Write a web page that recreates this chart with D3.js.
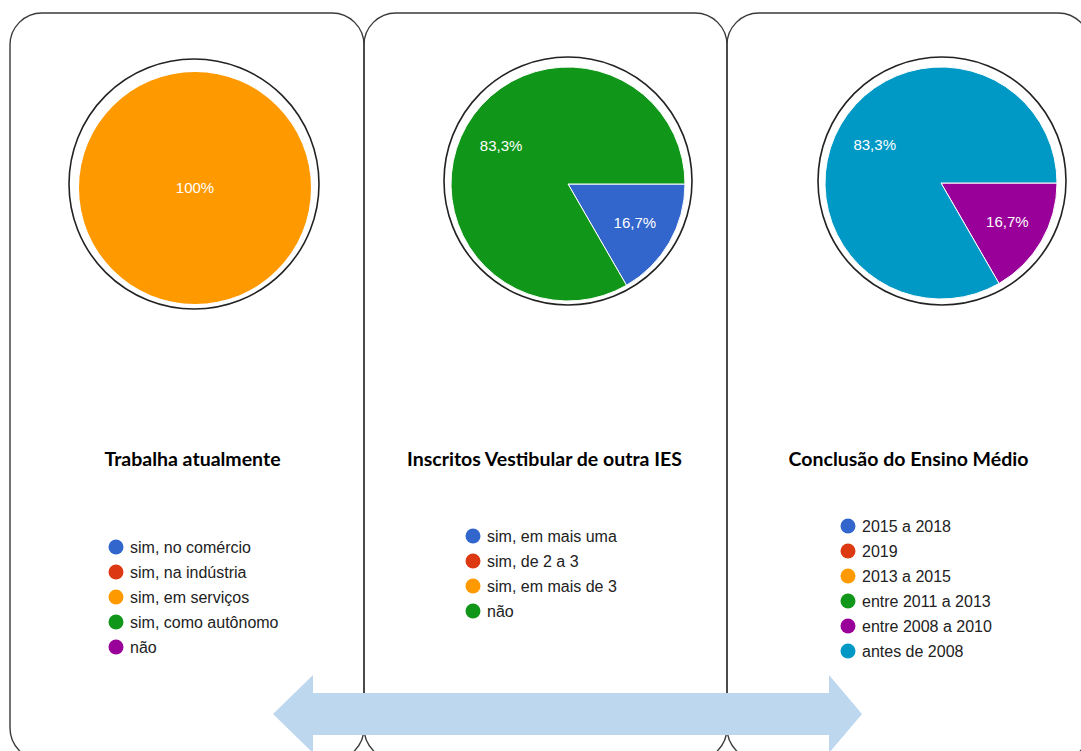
<!DOCTYPE html>
<html lang="pt">
<head>
    <meta charset="UTF-8">
    <title>Perfil dos inscritos</title>
    <script src="https://cdnjs.cloudflare.com/ajax/libs/d3/7.8.5/d3.min.js"></script>
    <style>
        body {
            margin: 0;
            background-color: #ffffff;
        }
        svg {
            display: block;
        }
        .slice-label {
            font-family: Arial, "Liberation Sans", sans-serif;
            font-size: 15px;
            fill: #ffffff;
            text-anchor: middle;
        }
        .legend-label {
            font-family: Arial, "Liberation Sans", sans-serif;
            font-size: 16px;
            fill: #222222;
        }
        .panel-title {
            font-family: Lato, "Open Sans", sans-serif;
            font-weight: bold;
            font-size: 19.5px;
            fill: #000000;
            text-anchor: middle;
        }
    </style>
</head>
<body>
    <svg width="1081" height="751"></svg>
    <script>
// chart data
const titles = ["Trabalha atualmente", "Inscritos Vestibular de outra IES", "Conclusão do Ensino Médio"];

const trabalhaLabels = ["sim, no comércio", "sim, na indústria", "sim, em serviços", "sim, como autônomo", "não"];
const trabalhaValues = [0, 0, 6, 0, 0];

const inscritosLabels = ["sim, em mais uma", "sim, de 2 a 3", "sim, em mais de 3", "não"];
const inscritosValues = [1, 0, 0, 5];

const conclusaoLabels = ["2015 a 2018", "2019", "2013 a 2015", "entre 2011 a 2013", "entre 2008 a 2010", "antes de 2008"];
const conclusaoValues = [0, 0, 0, 0, 1, 5];

const palette = ["#3366cc", "#dc3912", "#ff9900", "#109618", "#990099", "#0099c6"];

const svg = d3.select("svg");

// layout of the three cards (screen positions only)
const edges = [10, 364, 727, 1090];
const panels = [
    {ring: [194, 184, 125], pie: [195, 188, 116], legend: [116, 547], titleX: 192.5, labels: trabalhaLabels,  values: trabalhaValues},
    {ring: [568, 181, 124], pie: [568, 184, 117], legend: [473, 536], titleX: 544.5, labels: inscritosLabels, values: inscritosValues},
    {ring: [942, 181, 124], pie: [941, 183, 116], legend: [848, 526], titleX: 908.5, labels: conclusaoLabels, values: conclusaoValues}
];
panels.forEach((p, i) => { p.x0 = edges[i]; p.x1 = edges[i + 1]; });
const panelTop = 13, panelBottom = 760, corner = 32;

const pct = v => {
    const s = (Math.round(v * 1000) / 10).toString();
    return s.replace(".", ",") + "%";
};

const pie = d3.pie()
    .sort(null)
    .value(d => d.value)
    .startAngle(Math.PI / 2)
    .endAngle(Math.PI / 2 + 2 * Math.PI);

// card outlines
svg.selectAll("rect.card")
    .data(panels)
    .enter().append("rect")
    .attr("class", "card")
    .attr("x", d => d.x0)
    .attr("y", panelTop)
    .attr("width", d => d.x1 - d.x0)
    .attr("height", panelBottom - panelTop)
    .attr("rx", corner)
    .attr("ry", corner)
    .attr("fill", "none")
    .attr("stroke", "#3a3a3a")
    .attr("stroke-width", 1.4);

panels.forEach((p, i) => {
    const data = p.labels.map((label, k) => ({label, value: p.values[k], color: palette[k]}));
    const total = d3.sum(data, d => d.value);
    const [cx, cy, r] = p.pie;

    // ring drawn around the pie
    svg.append("circle")
        .attr("cx", p.ring[0])
        .attr("cy", p.ring[1])
        .attr("r", p.ring[2])
        .attr("fill", "none")
        .attr("stroke", "#222")
        .attr("stroke-width", 1.6);

    const g = svg.append("g").attr("transform", `translate(${cx},${cy})`);
    const arcs = pie(data).filter(d => d.data.value > 0);

    const arc = d3.arc().innerRadius(0).outerRadius(r);
    const labelArc = d3.arc().innerRadius(r * 0.32).outerRadius(r);

    g.selectAll("path")
        .data(arcs)
        .enter().append("path")
        .attr("d", arc)
        .attr("fill", d => d.data.color)
        .attr("stroke", "#ffffff")
        .attr("stroke-width", arcs.length > 1 ? 1 : 0);

    g.selectAll("text")
        .data(arcs)
        .enter().append("text")
        .attr("class", "slice-label")
        .attr("transform", d => arcs.length > 1 ? `translate(${labelArc.centroid(d)})` : "translate(0,0)")
        .attr("dy", "0.35em")
        .text(d => pct(d.data.value / total));

    // title
    svg.append("text")
        .attr("class", "panel-title")
        .attr("x", p.titleX)
        .attr("y", 466)
        .text(titles[i]);

    // legend
    const leg = svg.append("g").attr("transform", `translate(${p.legend[0]},${p.legend[1]})`);
    const rows = leg.selectAll("g")
        .data(data)
        .enter().append("g")
        .attr("transform", (d, k) => `translate(0,${k * 25})`);
    rows.append("circle")
        .attr("r", 7.5)
        .attr("fill", d => d.color);
    rows.append("text")
        .attr("class", "legend-label")
        .attr("x", 14)
        .attr("dy", "0.35em")
        .text(d => d.label);
});

// double headed arrow along the bottom
const arrowY = 714, shaftH = 21, headH = 39;
const arrowX = d3.scaleLinear().domain([0, 1]).range([273, 862]);
const leftBack = 313, rightBack = 829;
const arrowPts = [
    [arrowX(0), arrowY],
    [leftBack, arrowY - headH],
    [leftBack, arrowY - shaftH],
    [rightBack, arrowY - shaftH],
    [rightBack, arrowY - headH],
    [arrowX(1), arrowY],
    [rightBack, arrowY + headH],
    [rightBack, arrowY + shaftH],
    [leftBack, arrowY + shaftH],
    [leftBack, arrowY + headH]
];
svg.append("path")
    .attr("d", d3.line()(arrowPts) + "Z")
    .attr("fill", "#bdd7ee");
    </script>
</body>
</html>
